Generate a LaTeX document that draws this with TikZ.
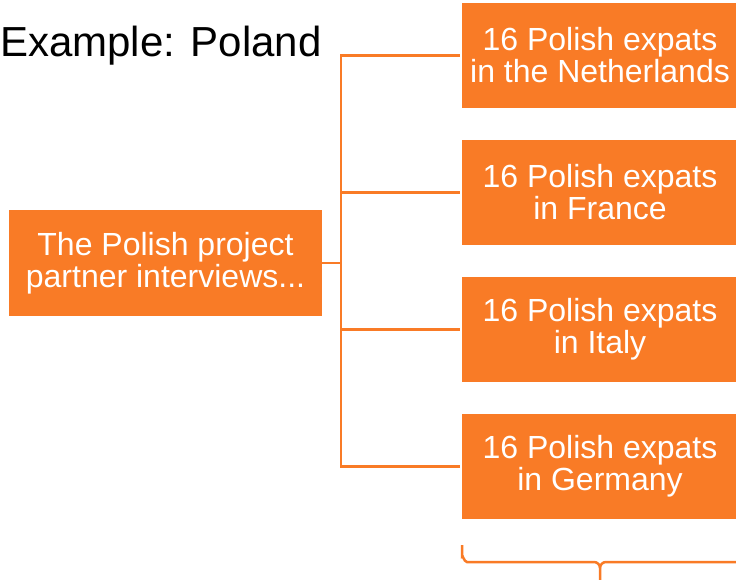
\documentclass[tikz,border=0pt]{standalone}
\usepackage{fontspec}
\setmainfont{Liberation Sans}
\definecolor{orng}{RGB}{249,123,38}
\begin{document}
\begin{tikzpicture}[x=1pt,y=-1pt,
  box/.style={fill=orng,draw=none,text=white,align=center,inner sep=0pt,
    font=\fontsize{32}{32}\selectfont},
  conn/.style={draw=orng,line width=2.5pt}]
\useasboundingbox (0,0) rectangle (736,579);
\begin{scope}
\clip (0,0) rectangle (736,579);
\node[anchor=base west,inner sep=0pt,font=\fontsize{42}{46}\selectfont] (title) at (0,56) {Example: Poland};
\node[box,minimum width=313pt,minimum height=106pt] (L) at (165.5,263) {The Polish project\\partner interviews...};
\node[box,minimum width=276pt,minimum height=105pt] (b1) at (600,55.5) {16 Polish expats\\in the Netherlands};
\node[box,minimum width=276pt,minimum height=105pt] (b2) at (600,192.5) {16 Polish expats\\in France};
\node[box,minimum width=276pt,minimum height=105pt] (b3) at (600,329.5) {16 Polish expats\\in Italy};
\node[box,minimum width=276pt,minimum height=105pt] (b4) at (600,466.5) {16 Polish expats\\in Germany};
\coordinate (j) at (341,263);
\draw[conn] (L.east) -- (j);
\draw[conn,shorten >=2pt] (j) |- (b1.west);
\draw[conn,shorten >=2pt] (j) |- (b2.west);
\draw[conn,shorten >=2pt] (j) |- (b3.west);
\draw[conn,shorten >=2pt] (j) |- (b4.west);
\coordinate (bl) at (462,545);
\coordinate (tip) at (600,580);
\draw[conn,line cap=butt] (bl) -- (462,556) to[out=90,in=180] (467,562) -- (594,562) to[out=0,in=90] (600,568) -- (tip);
\draw[conn,line cap=butt] (600,568) to[out=90,in=180] (606,562) -- (740,562);
\end{scope}
\end{tikzpicture}
\end{document}
